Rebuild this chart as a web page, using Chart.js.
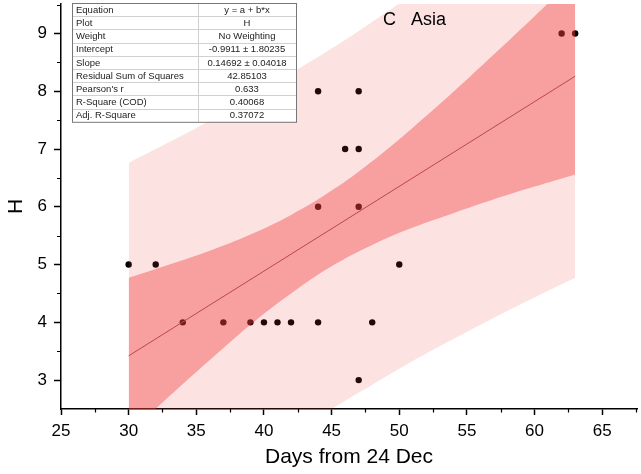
<!DOCTYPE html>
<html>
<head>
<meta charset="utf-8">
<script src="https://cdn.jsdelivr.net/npm/chart.js@4.4.0/dist/chart.umd.min.js"></script>
<style>
html, body { margin: 0; padding: 0; background: #fff; }
</style>
</head>
<body>
<canvas id="asiaChart" width="641" height="474"></canvas>
<script>
// observed points (days from 24 Dec, H)
const days = [30, 32, 34, 37, 39, 40, 41, 42, 44, 44, 44, 46, 47, 47, 47, 47, 48, 50, 62, 63];
const hValues = [5, 5, 4, 4, 4, 4, 4, 4, 4, 6, 8, 7, 7, 8, 6, 3, 4, 5, 9, 9];

// fitted line ends
const fitX = [30, 63];
const fitY = [3.42, 8.26];

// bands
const bandX = [30, 33, 36, 39, 42, 45, 48, 51, 54, 57, 60, 63];
const confUpper = [4.77, 5.00, 5.24, 5.52, 5.86, 6.28, 6.79, 7.37, 7.99, 8.64, 9.30, 9.97];
const confLower = [2.06, 2.72, 3.35, 3.96, 4.50, 4.97, 5.34, 5.64, 5.89, 6.13, 6.35, 6.56];
const predUpper = [6.76, 7.12, 7.49, 7.89, 8.31, 8.74, 9.20, 9.68, 10.17, 10.69, 11.22, 11.76];
const predLower = [0.08, 0.60, 1.10, 1.59, 2.05, 2.50, 2.92, 3.33, 3.71, 4.08, 4.43, 4.77];

const xTicks = [25, 30, 35, 40, 45, 50, 55, 60, 65];
const yTicks = [3, 4, 5, 6, 7, 8, 9];

const statRows = [
	["Equation", "y = a + b*x"],
	["Plot", "H"],
	["Weight", "No Weighting"],
	["Intercept", "-0.9911 \u00b1 1.80235"],
	["Slope", "0.14692 \u00b1 0.04018"],
	["Residual Sum of Squares", "42.85103"],
	["Pearson's r", "0.633"],
	["R-Square (COD)", "0.40068"],
	["Adj. R-Square", "0.37072"],
];

const FONT = "'Liberation Sans', Arial, sans-serif";

const pts = (xs, ys) => xs.map((x, i) => ({ x: x, y: ys[i] }));

const band = (xs, ys, fill, color, order) => ({
	type: "line",
	data: pts(xs, ys),
	borderWidth: 0,
	pointRadius: 0,
	tension: 0.4,
	fill: fill,
	backgroundColor: color,
	order: order,
});

const minorTicks = {
	id: "minorTicks",
	afterDraw(chart) {
		const ctx = chart.ctx;
		const xs = chart.scales.x;
		const ys = chart.scales.y;
		ctx.save();
		ctx.strokeStyle = "#000";
		ctx.lineWidth = 1.2;
		ctx.beginPath();
		for (let v = 27.5; v < xs.max; v += 5) {
			const px = Math.round(xs.getPixelForValue(v)) + 0.5;
			ctx.moveTo(px, xs.top);
			ctx.lineTo(px, xs.top + 3.5);
		}
		for (let v = 3.5; v < ys.max; v += 1) {
			const py = Math.round(ys.getPixelForValue(v)) + 0.5;
			ctx.moveTo(ys.right, py);
			ctx.lineTo(ys.right - 4, py);
		}
		ctx.stroke();
		ctx.restore();
	},
};

const statsTable = {
	id: "statsTable",
	afterDraw(chart) {
		const ctx = chart.ctx;
		const left = 72, top = 3, w = 224, rowH = 13.2, split = 198;
		const h = rowH * statRows.length;
		ctx.save();
		ctx.fillStyle = "#fff";
		ctx.fillRect(left, top, w, h);
		ctx.strokeStyle = "#d0d0d0";
		ctx.lineWidth = 1;
		ctx.beginPath();
		for (let i = 1; i < statRows.length; i++) {
			const y = Math.round(top + i * rowH) + 0.5;
			ctx.moveTo(left, y);
			ctx.lineTo(left + w, y);
		}
		ctx.moveTo(split + 0.5, top);
		ctx.lineTo(split + 0.5, top + h);
		ctx.stroke();
		ctx.strokeStyle = "#777";
		ctx.strokeRect(left + 0.5, top + 0.5, w, h);
		ctx.fillStyle = "#222";
		ctx.font = "9.5px " + FONT;
		ctx.textBaseline = "middle";
		statRows.forEach((r, i) => {
			const y = top + i * rowH + rowH / 2 + 0.5;
			ctx.textAlign = "left";
			ctx.fillText(r[0], left + 4, y);
			ctx.textAlign = "center";
			ctx.fillText(r[1], (split + left + w) / 2, y);
		});
		ctx.fillStyle = "#000";
		ctx.font = "18px " + FONT;
		ctx.textAlign = "left";
		ctx.textBaseline = "alphabetic";
		ctx.fillText("C   Asia", 383, 25);
		ctx.restore();
	},
};

const config = {
	type: "scatter",
	data: {
		datasets: [
			band(bandX, predUpper, "+1", "rgba(240,60,60,0.15)", 3),
			band(bandX, predLower, false, "transparent", 3),
			band(bandX, confUpper, "+1", "rgba(240,60,60,0.40)", 2),
			band(bandX, confLower, false, "transparent", 2),
			{
				type: "line",
				data: pts(fitX, fitY),
				borderColor: "#b94848",
				borderWidth: 1,
				pointRadius: 0,
				fill: false,
				order: 1,
			},
			{
				data: pts(days, hValues),
				backgroundColor: "#000",
				borderWidth: 0,
				pointRadius: 3.2,
				order: 4,
			},
		],
	},
	options: {
		responsive: false,
		animation: false,
		layout: { padding: { left: 0, right: 1, top: 0, bottom: 0 } },
		plugins: {
			legend: false,
			tooltip: { enabled: false },
		},
		scales: {
			x: {
				type: "linear",
				min: 25,
				max: 67.57,
				afterBuildTicks: (s) => { s.ticks = xTicks.map((v) => ({ value: v })); },
				afterFit: (s) => { s.height = 65; s.paddingLeft = 0; s.paddingRight = 0; },
				border: { color: "#000", width: 1.5 },
				grid: { drawOnChartArea: false, color: "#000", tickLength: 6, tickWidth: 1.5 },
				ticks: { color: "#000", padding: 6, maxRotation: 0, font: { family: FONT, size: 17 } },
				title: {
					display: true,
					text: "Days from 24 Dec",
					color: "#000",
					font: { family: FONT, size: 21 },
					padding: { top: 0, bottom: 4 },
				},
			},
			y: {
				type: "linear",
				min: 2.5,
				max: 9.51,
				afterBuildTicks: (s) => { s.ticks = yTicks.map((v) => ({ value: v })); },
				afterFit: (s) => { s.width = 61; s.paddingTop = 0; s.paddingBottom = 0; },
				border: { color: "#000", width: 1.5 },
				grid: { drawOnChartArea: false, color: "#000", tickLength: 7, tickWidth: 1.5 },
				ticks: { color: "#000", padding: 7, font: { family: FONT, size: 17 } },
				title: {
					display: true,
					text: "H",
					color: "#000",
					font: { family: FONT, size: 21 },
					padding: { top: 4, bottom: 0 },
				},
			},
		},
	},
	plugins: [minorTicks, statsTable],
};

const asiaChart = new Chart(document.getElementById("asiaChart"), config);
</script>
</body>
</html>
